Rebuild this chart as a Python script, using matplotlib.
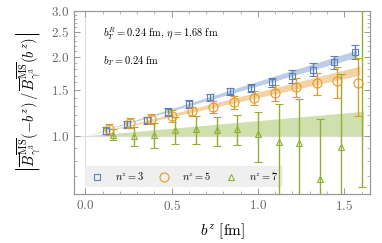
import numpy as np
import matplotlib
matplotlib.use("Agg")
import matplotlib.pyplot as plt
from matplotlib.lines import Line2D
from matplotlib.ticker import FixedLocator, NullFormatter

plt.rcParams['mathtext.fontset'] = 'cm'
plt.rcParams['font.family'] = ['DejaVu Serif']

# ---- data ----
bz3 = [0.12, 0.24, 0.36, 0.48, 0.60, 0.72, 0.84, 0.96, 1.08, 1.20, 1.32, 1.44, 1.56]
r3 = [1.048, 1.105, 1.145, 1.237, 1.328, 1.404, 1.477, 1.526, 1.603, 1.69, 1.79, 1.915, 2.09]
e3 = [0.03, 0.035, 0.04, 0.045, 0.045, 0.045, 0.05, 0.05, 0.06, 0.10, 0.10, 0.11, 0.125]

bz5 = [0.14, 0.26, 0.38, 0.50, 0.62, 0.74, 0.86, 0.98, 1.10, 1.22, 1.34, 1.46, 1.58]
r5 = [1.06, 1.12, 1.16, 1.194, 1.24, 1.293, 1.343, 1.392, 1.46, 1.534, 1.585, 1.614, 1.585]
e5 = [0.05, 0.05, 0.055, 0.06, 0.05, 0.07, 0.08, 0.085, 0.10, 0.13, 0.15, 0.22, 0.39]

bz7 = [0.16, 0.28, 0.40, 0.52, 0.64, 0.76, 0.88, 1.00, 1.12, 1.24, 1.36, 1.48, 1.60]
r7 = [1.01, 1.0, 1.009, 1.055, 1.064, 1.05, 1.064, 1.015, 0.946, 0.943, 0.683, 0.91, 3.3]
e7 = [0.05, 0.085, 0.11, 0.125, 0.13, 0.135, 0.14, 0.22, 0.38, 0.44, 0.48, 0.82, 2.665]

# fit bands: log-slope (center, half-width) and x end
band_slopes = [(0.46, 0.02), (0.361, 0.025), (0.067, 0.067)]
band_xmax = [1.57, 1.59, 1.61]

labels = [r'$n^z = 3$', r'$n^z = 5$', r'$n^z = 7$']
colors = ['#5E81B5', '#E19C24', '#8FB032']
band_colors = ['#bccde6', '#f4d2a3', '#cfdfae']
markers = ['s', 'o', '^']
msizes = [5, 6.5, 5]

yticks = [1.0, 1.5, 2.0, 2.5, 3.0]
xticks = [0.0, 0.5, 1.0, 1.5]

fig = plt.figure(figsize=(3.82, 2.43), dpi=100)
ax = fig.add_axes([0.194, 0.202, 0.775, 0.753])
ax.set_yscale('log')

ax.axhline(1.0, color='#dddddd', lw=0.8, zorder=0)
ax.axvline(0.0, color='#dddddd', lw=0.8, zorder=0)

for (a, d), xm, bc in zip(band_slopes, band_xmax, band_colors):
    xx = np.linspace(0, xm, 100)
    ax.fill_between(xx, np.exp((a - d) * xx), np.exp((a + d) * xx), color=bc, lw=0, zorder=1)

for bz, r, e, c, m, ms in zip([bz3, bz5, bz7], [r3, r5, r7], [e3, e5, e7], colors, markers, msizes):
    ax.errorbar(bz, r, yerr=e, fmt=m, ms=ms, mfc='none', mec=c, mew=0.8,
                ecolor=c, elinewidth=1.0, capsize=3.2, capthick=1.0, zorder=3)

ax.set_xlim(-0.065, 1.65)
ax.set_ylim(0.6, 3.0)

ax.yaxis.set_major_locator(FixedLocator(yticks))
ax.set_yticklabels([r'$%.1f$' % v for v in yticks])
ax.yaxis.set_minor_locator(FixedLocator([0.7, 0.8, 0.9, 1.1, 1.2, 1.3, 1.4, 1.6, 1.7, 1.8, 1.9,
                                         2.1, 2.2, 2.3, 2.4, 2.6, 2.7, 2.8, 2.9]))
ax.yaxis.set_minor_formatter(NullFormatter())
ax.set_xticks(xticks)
ax.set_xticklabels([r'$%.1f$' % v for v in xticks])
ax.set_xticks(np.arange(0.1, 1.65, 0.1), minor=True)

ax.tick_params(which='both', direction='in', top=True, right=True, colors='#999999',
               labelcolor='#666666', labelsize=9.5)
ax.tick_params(which='major', length=4, width=0.7)
ax.tick_params(which='minor', length=2, width=0.5)
for sp in ax.spines.values():
    sp.set_color('#999999')
    sp.set_linewidth(0.9)

ax.set_xlabel(r'$b^z\ [\mathrm{fm}]$', fontsize=11, labelpad=6)
ax.set_ylabel(r'$\left|\overline{B}^{\overline{\rm MS}}_{\gamma^3}(-b^z)\,/\,\overline{B}^{\overline{\rm MS}}_{\gamma^3}(b^z)\right|$',
              fontsize=10.5, labelpad=6)

ax.text(0.1, 2.45, r'$b_T^R = 0.24\ \mathrm{fm},\, \eta = 1.68\ \mathrm{fm}$', fontsize=7.5, va='center')
ax.text(0.1, 1.93, r'$b_T = 0.24\ \mathrm{fm}$', fontsize=7.5, va='center')

handles = [Line2D([], [], ls='none', marker=m, ms=ms, mfc='none', mec=c, mew=0.8)
           for m, ms, c in zip(markers, msizes, colors)]
leg = ax.legend(handles, labels, ncol=3, loc='lower left',
                bbox_to_anchor=(0.037, 0.04, 0.67, 0.13), mode='expand', borderaxespad=0,
                frameon=True, fancybox=False, facecolor='#efefef', edgecolor='none',
                framealpha=1, fontsize=7.5, handletextpad=1.0, columnspacing=1.2,
                handlelength=1.5)
leg.set_zorder(2)

fig.savefig('out.png', dpi=100)
